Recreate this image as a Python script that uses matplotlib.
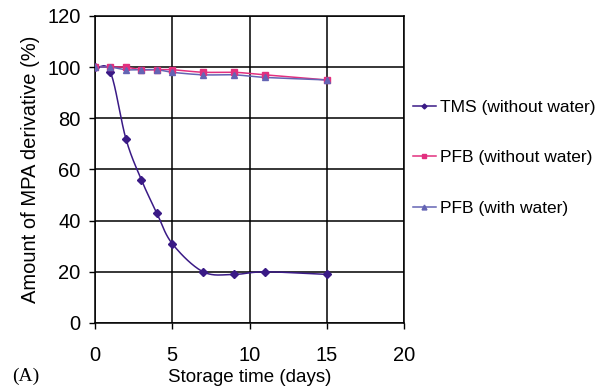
import numpy as np
import matplotlib
matplotlib.use("Agg")
import matplotlib.pyplot as plt

# storage time (days)
days = [0, 1, 2, 3, 4, 5, 7, 9, 11, 15]

# amount of MPA derivative (%)
tms_dry = [100, 98, 72, 56, 43, 31, 20, 19, 20, 19]
pfb_dry = [100, 100, 100, 99, 99, 99, 98, 98, 97, 95]
pfb_wet = [100, 100, 99, 99, 99, 98, 97, 97, 96, 95]

labels = ["TMS (without water)", "PFB (without water)", "PFB (with water)"]
colors = ["#3a1a86", "#e2307f", "#6464b4"]
markers = ["D", "s", "^"]
msizes = [4, 4.5, 5]


def smooth(x, y, n=20):
    # Catmull-Rom style curve through the points (like a spreadsheet "smoothed line")
    x = np.asarray(x, float)
    y = np.asarray(y, float)
    px = np.concatenate([[2 * x[0] - x[1]], x, [2 * x[-1] - x[-2]]])
    py = np.concatenate([[2 * y[0] - y[1]], y, [2 * y[-1] - y[-2]]])
    xs, ys = [], []
    t = np.linspace(0, 1, n)
    for i in range(1, len(px) - 2):
        for p, out in ((px, xs), (py, ys)):
            p0, p1, p2, p3 = p[i - 1], p[i], p[i + 1], p[i + 2]
            out.extend(0.5 * ((2 * p1) + (-p0 + p2) * t
                              + (2 * p0 - 5 * p1 + 4 * p2 - p3) * t ** 2
                              + (-p0 + 3 * p1 - 3 * p2 + p3) * t ** 3))
    return xs, ys


plt.rcParams["font.family"] = ["Liberation Sans", "DejaVu Sans"]

fig = plt.figure(figsize=(5.99, 3.90), dpi=100)
ax = fig.add_axes([0.1586, 0.1718, 0.5159, 0.7872])

series = [tms_dry, pfb_dry, pfb_wet]
handles = []
for vals, lab, c, m, ms in zip(series, labels, colors, markers, msizes):
    sx, sy = smooth(days, vals)
    ax.plot(sx, sy, color=c, lw=1.1, zorder=3)
    ax.plot(days, vals, ls="none", marker=m, ms=ms, color=c, zorder=4)
    h, = ax.plot([], [], color=c, lw=1.1, marker=m, ms=ms - 1.5)
    handles.append(h)

ax.set_xlim(0, 20)
ax.set_ylim(0, 120)
ax.set_xticks(range(0, 21, 5))
ax.set_yticks(range(0, 121, 20))
ax.grid(True, color="black", lw=1.1)
ax.set_axisbelow(True)
for s in ax.spines.values():
    s.set_color("black")
    s.set_linewidth(1.1)
ax.tick_params(direction="out", length=4.5, width=1, labelsize=14.5)
ax.tick_params(axis="x", pad=12)
ax.tick_params(axis="y", pad=6)

ax.set_xlabel("Storage time (days)", fontsize=13.5, labelpad=3)
ax.set_ylabel("Amount of MPA derivative (%)", fontsize=14.5, labelpad=5)

fig.legend(handles, labels, loc="upper left", bbox_to_anchor=(0.689, 0.745),
           frameon=False, fontsize=12.5, labelspacing=2.05, handlelength=1.35,
           handletextpad=0.2, borderaxespad=0, borderpad=0)

fig.text(0.02, 0.022, "(A)", fontsize=14, family="Liberation Serif")

fig.savefig("out.png", dpi=100)
